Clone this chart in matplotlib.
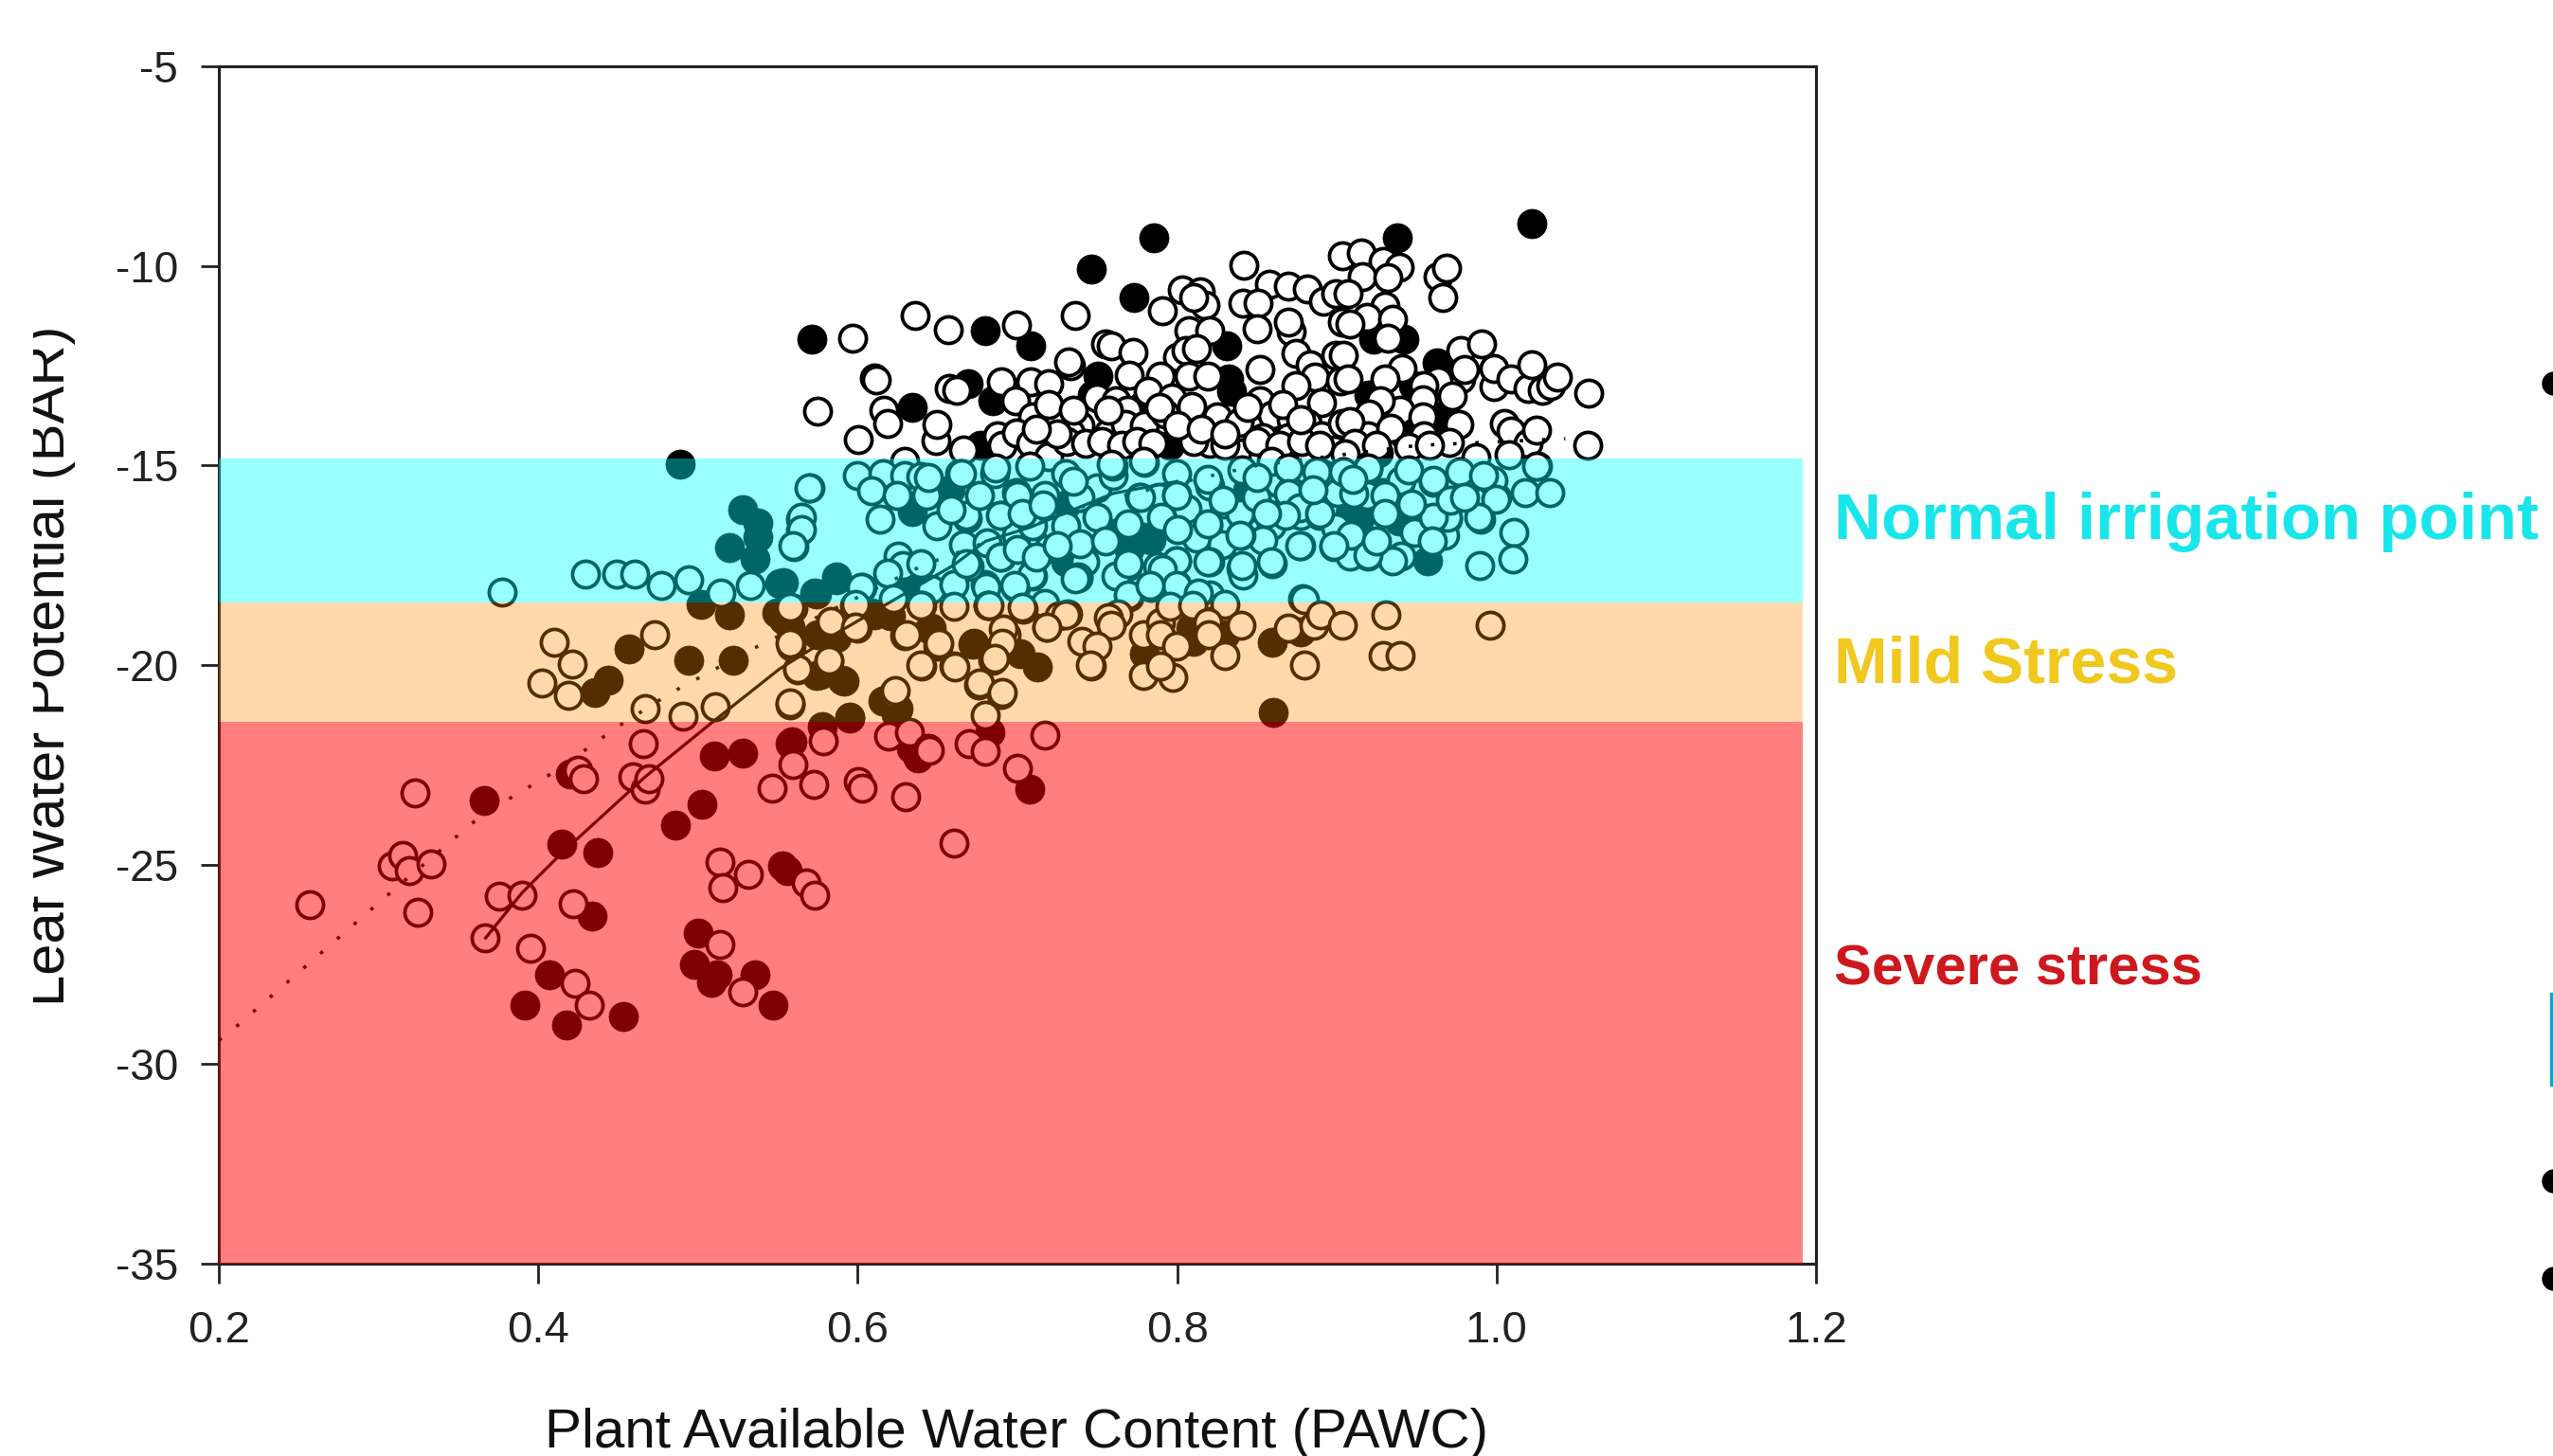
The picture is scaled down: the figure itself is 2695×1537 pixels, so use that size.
#========================================#
# Leaf water potential against PAWC, with stress bands
#========================================#
import numpy as np
import matplotlib
matplotlib.use("Agg")
import matplotlib.pyplot as plt
from matplotlib.patches import Circle, Rectangle
from matplotlib.transforms import Bbox, IdentityTransform

plt.rcParams["font.family"] = ["Liberation Sans", "DejaVu Sans"]

# Values (PAWC, leaf water potential)
#========================================#
filled_upper = [(.5714,-11.84),(.6798,-11.61),(.7085,-12.0),(.6343,-13.54),(.669,-12.95),(.6847,-13.37),(.6768,-14.49),
    (.7856,-9.29),(.7461,-10.09),(.7732,-10.78),(.8311,-11.99),(.7506,-12.75),(.8341,-13.15),(.8321,-12.83),(.7471,-13.23),
    (.7955,-14.49),(.7787,-13.47),(.9378,-9.29),(1.0218,-8.94),(.923,-11.84),(.9418,-11.84),(.9625,-12.44),(.9477,-12.99),
    (.92,-13.23),(.9655,-13.78),(.9428,-14.26),(.926,-14.69),(.4887,-14.98)]
filled_normal = [(.5533,-17.94),(.574,-18.21),(.5869,-17.86),(.6343,-16.16),(.658,-15.6),(.6798,-17.98),(.6343,-18.05),
    (.7609,-16.71),(.7787,-16.79),(.7698,-17.11),(.7836,-16.87),(.8439,-15.6),(.7303,-16.0),(.7303,-17.42),(.9570,-17.38),
    (.9467,-16.0),(.9141,-16.35),(.9388,-16.39),(.9082,-16.2),(.5282,-16.11),(.5374,-16.43),(.5194,-17.06),(.5374,-16.79),
    (.5357,-17.33),(.5510,-17.97),(.5732,-18.2),(.5868,-17.79)]
filled_mild = [(.6086,-18.69),(.6205,-18.77),(.5533,-18.85),(.575,-19.24),(.5869,-19.32),(.6462,-19.08),(.6719,-19.48),
    (.7015,-19.72),(.7124,-20.05),(.574,-20.27),(.5912,-20.41),(.6155,-20.9),(.6254,-21.1),(.5952,-21.3),(.8598,-19.44),
    (.8602,-21.18),(.8084,-19.08),(.7797,-19.72),(.8103,-19.4),(.8301,-19.24),(.8776,-19.16),(.6727,-19.46),(.5017,-18.47),
    (.5197,-18.74),(.5493,-18.69),(.5578,-19.06),(.5783,-19.24),(.4567,-19.6),(.4942,-19.87),(.5221,-19.87),(.4438,-20.37),
    (.4353,-20.69),(.5766,-20.24),(.5902,-20.37),(.6174,-20.87),(.6242,-21.23),(.6106,-18.74),(.6447,-19.1)]
filled_severe = [(.578,-21.54),(.5576,-21.97),(.6828,-21.69),(.6333,-22.09),(.3661,-23.4),(.4199,-22.72),(.5102,-22.29),
    (.5282,-22.21),(.5589,-21.93),(.5953,-21.34),(.5023,-23.49),(.4856,-24.0),(.4148,-24.49),(.437,-24.69),(.4336,-26.29),
    (.5527,-25.02),(.556,-25.14),(.5,-26.72),(.4976,-27.49),(.5119,-27.75),(.5085,-27.94),(.5357,-27.75),(.5469,-28.51),
    (.407,-27.75),(.3917,-28.51),(.4176,-29.01),(.453,-28.8),(.6379,-22.33),(.7076,-23.12)]

open_upper = [(.5968,-11.8),(.6357,-11.25),(.6567,-11.6),(.6996,-11.49),(.6106,-12.82),(.6115,-12.86),(.5746,-13.64),
    (.6003,-14.35),(.6165,-13.62),(.6189,-13.94),(.6491,-14.37),(.6497,-13.98),(.657,-13.07),(.662,-13.11),(.6897,-12.9),
    (.7085,-12.91),(.7193,-12.95),(.699,-13.37),(.7095,-13.78),(.7193,-13.48),(.6877,-14.26),(.6907,-14.49),(.6996,-14.18),
    (.7085,-14.45),(.7193,-14.77),(.666,-14.61),(.6294,-14.89),(.733,-12.5),(.7362,-11.25),(.8416,-9.98),(.8034,-10.6),
    (.7906,-11.13),(.8143,-10.66),(.8173,-10.97),(.8103,-10.78),(.8074,-11.61),(.8202,-11.61),(.755,-11.96),(.7589,-12.0),
    (.7724,-12.16),(.7322,-12.4),(.8,-12.28),(.8054,-12.12),(.8123,-12.08),(.7896,-12.75),(.7698,-12.73),(.8074,-12.75),
    (.8192,-12.75),(.75,-13.31),(.7619,-13.39),(.7688,-13.62),(.7817,-13.15),(.7965,-13.31),(.8093,-13.51),(.7392,-14.0),
    (.7332,-14.18),(.757,-14.18),(.7678,-13.98),(.7797,-14.0),(.7925,-13.7),(.8252,-13.78),(.839,-13.92),(.8202,-14.45),
    (.841,-14.69),(.8538,-14.81),(.8578,-10.46),(.8696,-10.5),(.8815,-10.58),(.841,-10.93),(.8509,-10.93),(.8716,-11.65),
    (.8696,-11.41),(.8499,-11.57),(.8914,-10.89),(.8993,-10.7),(.9033,-9.75),(.9033,-11.41),(.8746,-12.2),(.8835,-12.48),
    (.8993,-12.24),(.8865,-12.79),(.9023,-12.87),(.8519,-12.6),(.8746,-12.99),(.8904,-13.43),(.8519,-13.39),(.8598,-13.74),
    (.8716,-13.86),(.8815,-13.94),(.8904,-14.26),(.9033,-13.94),(.8538,-14.3),(.8696,-14.3),(.8786,-14.69),(.8983,-14.61),
    (.9151,-9.67),(.9289,-9.9),(.9392,-10.02),(.9161,-10.26),(.9319,-10.3),(.9635,-10.26),(.9685,-10.06),(.9661,-10.78),
    (.9299,-11.01),(.919,-11.29),(.9349,-11.33),(.9319,-11.8),(.9082,-11.45),(.9072,-10.7),(.9042,-12.24),(.9408,-12.56),
    (.9299,-12.83),(.9072,-12.83),(.9774,-12.12),(.9906,-11.96),(.9774,-12.83),(.9799,-12.6),(.9981,-13.03),(.9981,-12.58),
    (1.009,-12.83),(1.0195,-13.07),(1.0222,-12.48),(1.0288,-13.11),(1.0337,-12.99),(1.0381,-12.79),(1.0574,-13.19),
    (.9635,-12.87),(.9546,-12.99),(.9536,-13.35),(.9724,-13.27),(.9398,-13.62),(.9269,-13.38),(.92,-13.7),(.9194,-14.26),
    (.9082,-13.9),(.9339,-14.06),(.9536,-13.78),(.9546,-14.26),(.9764,-13.98),(.9704,-14.42),(1.005,-13.94),(1.009,-14.14),
    (1.0199,-14.45),(1.0248,-14.11),(1.057,-14.49),(.9873,-14.81),(1.008,-14.73),
    (.731,-14.4),(.743,-14.45),(.753,-14.4),(.765,-14.5),(.775,-14.4),(.785,-14.45),(.8103,-14.4),(.83,-14.5),(.85,-14.4),
    (.864,-14.5),(.878,-14.4),(.889,-14.5),(.735,-13.62),(.757,-13.62),(.789,-13.55),(.844,-13.54),(.866,-13.47),(.8775,-13.86),
    (.911,-14.45),(.925,-14.5),(.945,-14.55),(.958,-14.5),(.905,-14.7),(.8,-14.0),(.815,-14.1),(.83,-14.2),(.725,-14.2),(.712,-14.1)]
open_normal = [(.5997,-15.25),(.6155,-15.2),(.6294,-15.25),(.6397,-15.27),(.664,-15.2),(.6086,-15.64),(.6244,-15.76),
    (.6432,-15.76),(.57,-15.56),(.6857,-15.2),(.6996,-15.68),(.5641,-16.35),(.5641,-16.63),(.5602,-17.03),(.6141,-16.34),
    (.6497,-16.51),(.6685,-16.31),(.6897,-16.24),(.666,-16.99),(.6808,-16.95),(.6996,-16.75),(.6897,-17.3),(.6699,-17.54),
    (.6254,-17.26),(.6284,-17.5),(.6393,-17.46),(.6185,-17.7),(.6027,-18.06),(.6225,-18.33),(.6462,-18.1),(.66,-17.98),
    (.7095,-17.78),(.6986,-18.06),(.7193,-17.07),(.7233,-16.51),(.7396,-15.8),(.75,-15.56),(.76,-15.25),(.7767,-15.8),
    (.7886,-15.8),(.7995,-15.72),(.8064,-16.08),(.8202,-15.52),(.8291,-15.96),(.84,-16.2),(.8637,-15.44),(.8706,-15.64),
    (.8657,-16.2),(.8776,-16.24),(.8894,-16.24),(.9003,-15.68),(.8993,-16.55),(.8983,-17.03),(.8776,-17.01),(.8588,-16.51),
    (.8538,-16.87),(.84,-16.75),(.8192,-16.51),(.8123,-16.83),(.8281,-16.99),(.8202,-17.42),(.7995,-17.38),(.7876,-17.54),
    (.7688,-17.52),(.7688,-16.51),(.7392,-17.03),(.7421,-17.42),(.7382,-17.82),(.7619,-17.78),(.7836,-18.06),(.7995,-17.99),
    (.8202,-18.25),(.84,-17.58),(.841,-17.74),(.8598,-17.46),(.7303,-16.51),(.7698,-18.29),(.7599,-15.01),(.7797,-14.93),
    (.9194,-15.09),(.9398,-15.44),(.9602,-15.43),(.9289,-15.68),(1.0,-15.8),(1.0179,-15.68),(1.0333,-15.68),(.9823,-15.36),
    (.9971,-15.4),(1.0258,-15.01),(.919,-15.76),(.9695,-16.35),(.9576,-16.35),(.9898,-16.35),(1.011,-16.67),(.9487,-16.67),
    (.9675,-16.75),(.9101,-16.75),(1.01,-17.34),(.9892,-17.5),(.9194,-17.26),(.9404,-17.26),(.9349,-17.38),(.9082,-17.26),
    (.6652,-15.2),(.6864,-15.07),(.7075,-15.02),(.7302,-15.2),(.759,-14.98),(.7786,-14.89),(.7998,-15.2),(.8195,-15.34),
    (.8407,-15.11),(.8588,-14.89),(.8694,-15.07),(.8876,-15.16),(.9042,-15.16),(.9193,-15.07),(.9405,-15.38),(.9602,-15.38),
    (.9768,-15.16),(.998,-15.38),(1.0252,-15.02),(.9995,-15.84),(.989,-16.29),(.9693,-16.29),(.9602,-16.29),(.6999,-15.75),
    (.7393,-15.79),(.7771,-15.79),(.7998,-15.75),(.8195,-16.47),(.8392,-16.2),(.8392,-16.74),(.8694,-15.7),(.877,-16.06),
    (.8891,-16.2),(.9088,-16.74),(.9193,-17.24),(.8982,-17.02),(.877,-17.02),(.8588,-17.42),(.8407,-17.51),(.8195,-17.42),
    (.7998,-17.38),(.7907,-17.6),(.7998,-18.01),(.7696,-16.47),(.7696,-17.47),(.7696,-18.24),(.7393,-16.97),(.7378,-17.79),
    (.7091,-17.74),(.6894,-17.29),(.6682,-16.25),(.6894,-16.25),(.6682,-17.47),(.6803,-18.06),(.6985,-18.01),(.7363,-17.83),
    (.7832,-18.01),(.8134,-18.2),(.8785,-18.33),(.9708,-15.88),(.9466,-15.97),(.9299,-15.75),(.9103,-15.7),(.8497,-15.79),
    (.8286,-15.88),(.868,-16.25),(.8558,-16.2),(.992,-15.25),(.3774,-18.17),(.4295,-17.71),(.4489,-17.71),(.4601,-17.71),
    (.4771,-18.01),(.4942,-17.86),(.5146,-18.2),(.533,-18.01),(.5697,-15.57),(.5646,-16.29),(.5646,-16.61),(.5595,-17.02),
    (.6021,-18.06),(.7095,-16.51),(.7174,-15.76),(.6445,-15.3),(.6585,-16.1),(.6765,-15.75),
    (.7,-17.1),(.712,-17.3),(.725,-17.0),(.703,-16.2),(.716,-16.0),(.735,-15.4),(.75,-16.3),(.755,-16.9),(.79,-16.3),
    (.8,-16.6),(.85,-15.3),(.885,-15.6),(.91,-15.35),(.925,-16.9),(.93,-16.2),(.945,-15.1),(.96,-16.9),(.98,-15.8)]
open_mild = [(.7174,-18.45),(.5592,-18.57),(.5977,-18.51),(.6399,-18.51),(.66,-18.53),(.6817,-18.51),(.7035,-18.61),
    (.7183,-19.04),(.7259,-18.77),(.5829,-18.99),(.5997,-19.08),(.6294,-19.26),(.5582,-19.52),(.5819,-19.91),(.5621,-20.13),
    (.6501,-19.52),(.6399,-20.03),(.66,-20.03),(.6926,-19.24),(.6897,-19.52),(.6847,-19.87),(.6758,-20.51),(.6901,-20.74),
    (.6798,-21.26),(.6225,-20.71),(.5576,-21.0),(.7313,-18.73),(.7629,-18.73),(.7569,-18.81),(.7589,-19.0),(.7402,-19.4),
    (.7496,-19.52),(.7461,-20.03),(.7787,-19.24),(.7896,-18.93),(.7896,-19.24),(.7995,-19.52),(.7791,-20.27),(.7975,-20.31),
    (.7896,-20.02),(.7955,-18.53),(.8099,-18.51),(.8297,-18.49),(.8192,-18.93),(.8198,-19.24),(.84,-19.0),(.8297,-19.76),
    (.8696,-19.07),(.8795,-18.37),(.8855,-19.0),(.8898,-18.75),(.88,-20.0),(.9033,-19.0),(.9309,-18.75),(.9289,-19.76),
    (.9398,-19.76),(.9958,-19.0),(.6818,-18.51),(.703,-18.56),(.7302,-18.74),(.7181,-19.06),(.6909,-19.1),(.6606,-20.05),
    (.7454,-20.0),(.4727,-19.24),(.4097,-19.42),(.421,-19.98),(.4022,-20.46),(.4189,-20.75),(.4669,-21.1),(.4908,-21.28),
    (.5109,-21.05),(.5578,-20.96),(.6232,-20.64),(.5578,-18.56),(.5834,-18.92),(.5987,-18.47),(.5987,-19.06),(.5578,-19.46),
    (.5817,-19.87),(.5623,-20.1),(.6304,-19.24),(.6508,-19.46),(.6396,-18.51),(.6821,-18.51),(.6396,-20.01),(.6906,-19.46),
    (.6855,-19.83),(.6763,-20.46),(.6906,-20.69)]
open_severe = [(.5786,-21.89),(.6195,-21.77),(.6323,-21.69),(.6442,-22.09),(.6699,-21.97),(.6798,-22.17),(.7174,-21.75),
    (.2572,-26.0),(.3229,-23.2),(.3083,-25.02),(.3151,-24.78),(.3195,-25.14),(.3331,-24.98),(.3246,-26.2),(.3757,-25.79),
    (.39,-25.77),(.3665,-26.84),(.4216,-25.98),(.3954,-27.1),(.4233,-27.98),(.4319,-28.51),(.425,-22.64),(.4284,-22.84),
    (.4659,-21.97),(.4591,-22.8),(.467,-23.12),(.4693,-22.84),(.5595,-22.49),(.5466,-23.08),(.5725,-23.0),(.6004,-22.92),
    (.6028,-23.08),(.63,-23.29),(.6447,-22.13),(.7002,-22.59),(.66,-24.46),(.5136,-24.94),(.5153,-25.57),(.5313,-25.24),
    (.568,-25.45),(.5732,-25.77),(.5136,-26.99),(.5282,-28.18)]

# Fitted curves
curve_x = [.367,.39,.415,.467,.51,.551,.587,.66,.68,.708,.76,.8]
curve_y = [-26.84,-25.7,-24.7,-22.8,-21.4,-20.1,-19.2,-17.5,-16.9,-16.55,-15.7,-15.4]
dotted_x = [.2,.208,.309,.365,.41,.45,.483,.534,.641,.75,.85,.95,1.043]
dotted_y = [-29.4,-29.16,-25.65,-23.75,-22.68,-21.54,-20.7,-19.6,-17.5,-15.9,-15.0,-14.5,-14.33]

# Stress bands: lower, upper, colour, alpha
band_right = 1.1917
band_low = [-18.43, -21.43, -35]
band_high = [-14.83, -18.43, -21.43]
band_colors = ["#00ffff", "#ff8c00", "#ff0000"]
band_alpha = [0.4, 0.33, 0.5]

x_ticks = [0.2, 0.4, 0.6, 0.8, 1.0, 1.2]
y_ticks = [-5, -10, -15, -20, -25, -30, -35]
y_tick_labels = ["-5", "-10", "-15", "-20", "-25", "-30", "-35"]

#========================================#
W, H = 2695, 1537
fig = plt.figure(figsize=(W/100, H/100), dpi=100)
ax = fig.add_axes([231/W, 1-1334/H, (1917-231)/W, (1334-70)/H])

filled = np.array(filled_upper + filled_normal + filled_mild + filled_severe)
opened = np.array(open_upper + open_normal + open_mild + open_severe)

ax.scatter(filled[:,0], filled[:,1], s=500, c="black", edgecolors="black", linewidths=0.5, zorder=2)
ax.scatter(opened[:,0], opened[:,1], s=410, c="white", edgecolors="black", linewidths=2.7, zorder=3)
ax.plot(curve_x, curve_y, color="black", lw=2.3, zorder=4)
ax.plot(dotted_x, dotted_y, color="black", lw=2.6, ls=(0, (1, 5.5)), zorder=4)

for lo, hi, c, a in zip(band_low, band_high, band_colors, band_alpha):
    ax.fill_between([0.2, band_right], lo, hi, color=c, alpha=a, lw=0, zorder=5, antialiased=False)

ax.set_xlim(0.2, 1.2)
ax.set_ylim(-35, -5)
ax.set_xticks(x_ticks)
ax.set_yticks(y_ticks)
ax.set_yticklabels(y_tick_labels)
ax.tick_params(axis="x", length=15, width=2, pad=20, labelsize=34, color="#222222", labelcolor="#222222")
ax.tick_params(axis="y", length=14, width=2, pad=17, labelsize=33, color="#222222", labelcolor="#222222")
for s in ax.spines.values():
    s.set_linewidth(2.2)
    s.set_color("#222222")

# Band names on the right of the frame
ax.text(1.2113, -16.84, "Normal irrigation point", color="#19e6eb", fontsize=49.7, fontweight="bold", va="baseline", clip_on=False)
ax.text(1.2113, -20.43, "Mild Stress", color="#f0c81e", fontsize=49, fontweight="bold", va="baseline", clip_on=False)
ax.text(1.2113, -28.0, "Severe stress", color="#cd191e", fontsize=43, fontweight="bold", va="baseline", clip_on=False)

fig.text(1073/W, 1-1528/H, "Plant Available Water Content (PAWC)", fontsize=42, color="#111111", ha="center", va="baseline")

# The y label is cut off at its left side in the picture
ylab = fig.text(68/W, 1-703/H, "Leaf Water Potential (BAR)", fontsize=43, color="#111111", rotation=90,
                rotation_mode="anchor", ha="center", va="baseline")
ylab.set_clip_box(Bbox([[35, 0], [W, H]]))
ylab.set_clip_on(True)

# Bits of the slide that are left at the right edge
for py in [405, 1247, 1350]:
    fig.add_artist(Circle((2696, H-py), 12, color="black", transform=IdentityTransform()))
fig.add_artist(Rectangle((2692, H-1146), 10, 98, color="#14a0c8", transform=IdentityTransform()))

fig.savefig("out.png", dpi=100, facecolor="white")
